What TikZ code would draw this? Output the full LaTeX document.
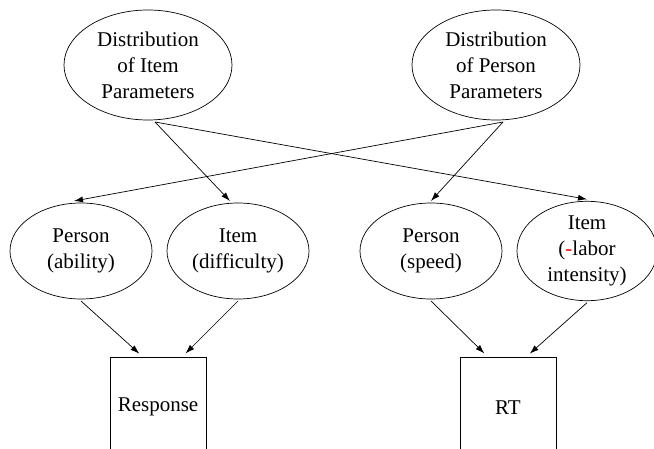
\documentclass[tikz,border=0pt]{standalone}
\usepackage{fontspec}
\setmainfont{Liberation Serif}
\usepackage{tikz}
\usetikzlibrary{arrows.meta, positioning, shapes.geometric}

\begin{document}
\begin{tikzpicture}[
          x=1pt, y=-1pt,
          font=\fontsize{21}{26}\selectfont,
          latent/.style={draw, ellipse, inner sep=0pt, align=center, outer sep=2pt,
              minimum width=142pt, minimum height=96pt},
          prior/.style={latent, minimum width=168pt, minimum height=110pt},
          observed/.style={anchor=north, minimum width=95pt, minimum height=100pt, inner sep=0pt},
          arrow/.style={-{Latex[length=9pt, width=6pt]}, line width=0.7pt},
          every path/.style={line width=0.7pt}
        ]
        \useasboundingbox (0,0) rectangle (654,449);
        \coordinate (ground) at (0,449);

        % -------- Priors --------
        \node[prior] (distI) at (148,65) {Distribution\\of Item\\Parameters};
        \node[prior] (distP) at (496,65) {Distribution\\of Person\\Parameters};

        % -------- Latent parameters --------
        \node[latent] (abil)  at (81,251)  {Person\\(ability)};
        \node[latent] (diff)  at (238,251) {Item\\(difficulty)};
        \node[latent] (speed) at (431,251) {Person\\(speed)};
        \node[latent, minimum width=140pt] (labor) at (587,251)
              {Item\\(\textcolor{red}{-}labor\\intensity)};

        % -------- Observed data (open at the bottom) --------
        \node[observed] (resp) at (158,357) {Response};
        \node[observed] (rt)   at (508,357) {RT};
        \draw (resp.north west |- ground) -- (resp.north west) -- (resp.north east) -- (resp.north east |- ground);
        \draw (rt.north west |- ground) -- (rt.north west) -- (rt.north east) -- (rt.north east |- ground);

        % -------- Arrows --------
        \draw[arrow] ([xshift=7pt]distI.south) -- ([xshift=-8pt]diff.north);
        \draw[arrow] ([xshift=7pt]distI.south) -- (labor.north);
        \draw[arrow] ([xshift=7pt]distP.south) -- ([xshift=-7pt]abil.north);
        \draw[arrow] ([xshift=7pt]distP.south) -- (speed.north);

        \draw[arrow, shorten >=5pt] (abil.south)  -- ([xshift=-15pt]resp.north);
        \draw[arrow, shorten >=5pt] (diff.south)  -- ([xshift=24pt]resp.north);
        \draw[arrow, shorten >=5pt] (speed.south) -- ([xshift=-20pt]rt.north);
        \draw[arrow, shorten >=5pt] (labor.south) -- ([xshift=18pt]rt.north);

      \end{tikzpicture}
\end{document}
